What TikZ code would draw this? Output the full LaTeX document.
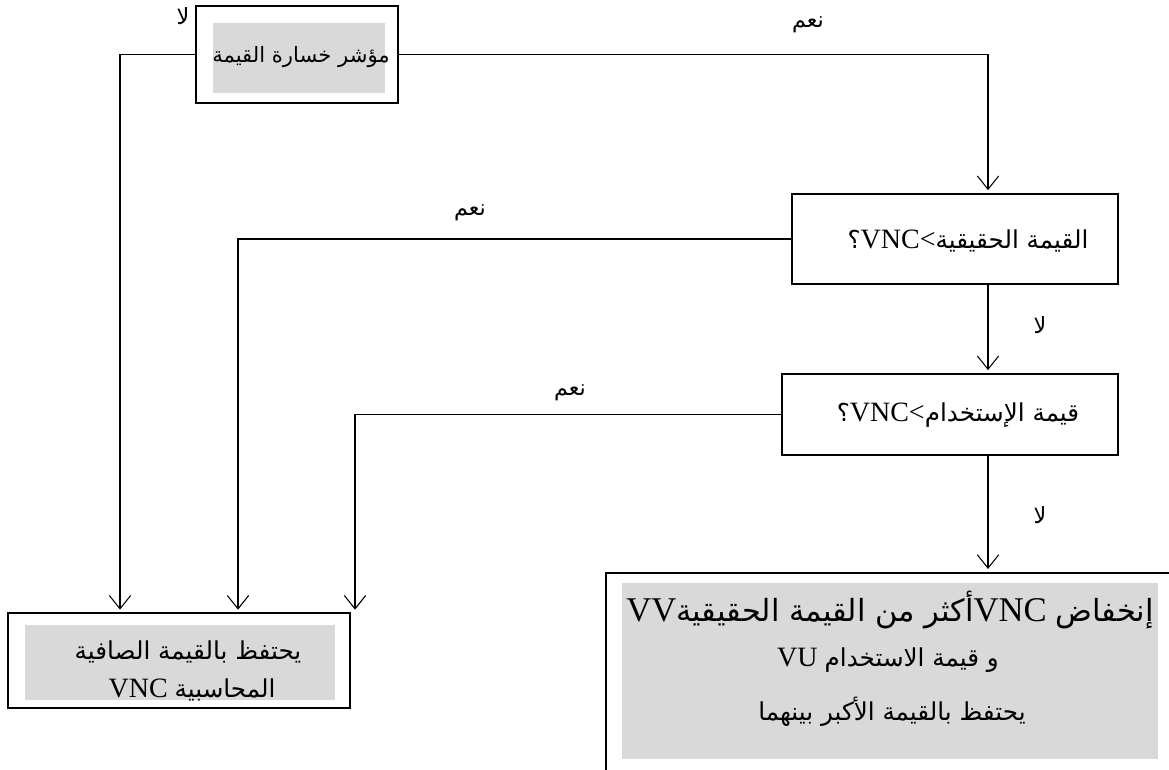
\documentclass[tikz,border=0pt]{standalone}
\usepackage{fontspec}
\setmainfont{Liberation Serif}
\newfontfamily\arfont[Script=Arabic,Scale=0.88]{DejaVu Sans}
\TeXXeTstate=1
\usetikzlibrary{arrows.meta}
\definecolor{shadegray}{RGB}{217,217,217}
% Arabic run, set right to left
\newcommand{\AR}[1]{{\arfont\beginR #1\endR}}

\begin{document}
\begin{tikzpicture}[x=0.75pt,y=-0.75pt,
  outerbox/.style={draw, line width=1pt, inner sep=0pt},
  shadebox/.style={fill=shadegray, inner sep=0pt},
  txt/.style={inner sep=0pt, font=\fontsize{21}{25}\selectfont},
  lab/.style={inner sep=0pt, font=\fontsize{19}{22}\selectfont},
  conn/.style={line width=0.8pt},
  arr/.style={conn, -{Straight Barb[length=10pt,width=16pt,line width=0.8pt]}, shorten >=2.5pt}]
\useasboundingbox (0,0) rectangle (1169,769);
\fill[white] (0,0) rectangle (1169,769);

% decision and result boxes
\node[outerbox, minimum width=151.5pt, minimum height=72.75pt] (b1) at (297,54.5) {};
\node[shadebox, minimum width=129pt, minimum height=52.5pt] (g1) at (299,58) {};
\node[txt, font=\fontsize{18}{22}\selectfont] (t1) at (301,57) {\AR{مؤشر خسارة القيمة}};

\node[outerbox, line width=0.8pt, minimum width=244.5pt, minimum height=67.5pt] (b2) at (955,239) {};
\node[txt] (t2) at (968,241) {\AR{؟}VNC<\AR{القيمة الحقيقية}};

\node[outerbox, line width=0.8pt, minimum width=252pt, minimum height=60.75pt] (b3) at (950,414.5) {};
\node[txt] (t3) at (958,415) {\AR{؟}VNC<\AR{قيمة الإستخدام}};

\node[outerbox, minimum width=424.5pt, minimum height=152.25pt] (b4) at (889,674.5) {};
\node[shadebox, minimum width=402pt, minimum height=132pt] (g4) at (890,671) {};
\node[txt, font=\fontsize{26}{30}\selectfont] (t4a) at (890,610) {VV\AR{أكثر من القيمة الحقيقية}VNC \AR{إنخفاض}};
\node[txt] (t4b) at (888,660) {VU \AR{و قيمة الاستخدام}};
\node[txt] (t4c) at (892,712) {\AR{يحتفظ بالقيمة الأكبر بينهما}};

\node[outerbox, minimum width=256.5pt, minimum height=71.25pt] (b5) at (179,660.5) {};
\node[shadebox, minimum width=232.5pt, minimum height=56.25pt] (g5) at (180,662.5) {};
\node[txt] (t5a) at (188,652) {\AR{يحتفظ بالقيمة الصافية}};
\node[txt] (t5b) at (192,690) {VNC \AR{المحاسبية}};

% connector routing points
\coordinate (mid) at (988,0);
\coordinate (e1) at (120,613);
\coordinate (e2) at (238,613);
\coordinate (e3) at (355,613);

% connectors
\draw[arr] (b1.west) -| (e1);
\draw[arr] (b1.east) -| (mid |- b2.north);
\draw[arr] (b2.west) -| (e2);
\draw[arr] (mid |- b2.south) -- (mid |- b3.north);
\draw[arr] (b3.west) -| (e3);
\draw[arr] (mid |- b3.south) -- (mid |- b4.north);

% branch labels
\node[lab] (n1) at (183,16) {\AR{لا}};
\node[lab] (y1) at (808,25) {\AR{نعم}};
\node[lab] (y2) at (470,213) {\AR{نعم}};
\node[lab] (n2) at (1040,325) {\AR{لا}};
\node[lab] (y3) at (570,393) {\AR{نعم}};
\node[lab] (n3) at (1040,515) {\AR{لا}};
\end{tikzpicture}
\end{document}
